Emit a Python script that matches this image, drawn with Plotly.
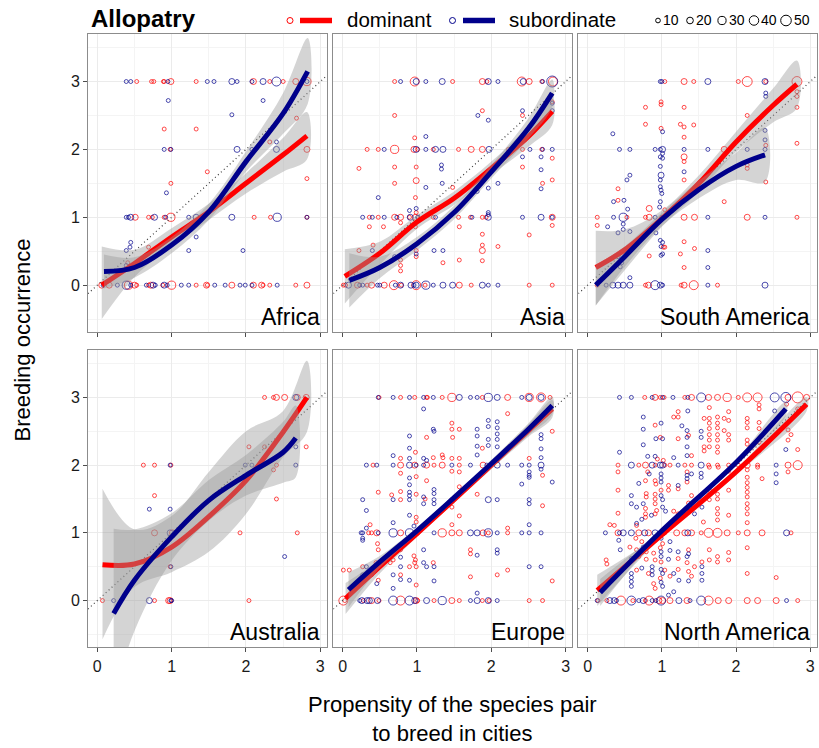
import plotly.graph_objects as go

# ---------------------------------------------------------------------------
# Observations: (propensity, breeding occurrence, weight) per region and status
# ---------------------------------------------------------------------------
AFRICA_DOM = [
    (0.53, 3, 7), (0.73, 3, 7), (0.76, 3, 7), (0.89, 3, 7), (0.90, 3, 7), (0.99, 3, 16), (1.33, 3, 7),
    (2.10, 3, 16), (2.32, 3, 7), (2.50, 3, 7), (2.67, 3, 16), (2.82, 3, 30),
    (0.90, 2.30, 7), (1.33, 2.30, 7), (2.32, 2.11, 7), (2.68, 2.46, 7),
    (0.98, 2, 7), (2.82, 2, 16), (1.48, 1.67, 7), (0.99, 1.50, 7), (2.82, 1.57, 7),
    (0.51, 1, 16), (0.69, 1, 7), (0.74, 1, 7), (0.90, 1, 7), (0.99, 1, 30), (2.11, 1, 7), (2.33, 1, 7), (2.82, 1, 7),
    (0.69, 0.56, 7), (0.41, 0.33, 7),
    (0.06, 0, 16), (0.16, 0, 16), (0.42, 0, 30), (0.50, 0, 16), (0.53, 0, 7), (0.69, 0, 7), (0.72, 0, 16),
    (0.88, 0, 7), (1.00, 0, 30), (1.33, 0, 7), (1.47, 0, 16), (1.48, 0, 7), (1.81, 0, 16), (2.10, 0, 16),
    (2.21, 0, 16), (2.23, 0, 7), (2.32, 0, 7), (2.67, 0, 7), (2.82, 0, 16),
]
AFRICA_SUB = [
    (0.39, 3, 7), (0.45, 3, 7), (0.95, 3, 7), (1.48, 3, 7), (1.57, 3, 7), (1.81, 3, 16), (1.88, 3, 7),
    (2.08, 3, 7), (2.23, 3, 16), (2.41, 3, 36), (2.82, 3, 7),
    (0.955, 2.72, 7), (1.81, 2.51, 7), (2.23, 2.72, 7), (2.41, 2.11, 7),
    (0.90, 2, 7), (0.99, 2, 7), (1.88, 2, 16), (2.08, 2, 7), (2.41, 2, 16), (0.93, 1.36, 7),
    (0.39, 1, 7), (0.42, 1, 7), (0.45, 1, 16), (0.77, 1, 16), (0.92, 1, 7), (1.23, 1, 7), (1.33, 1, 16),
    (1.81, 1, 16), (2.42, 1, 30), (2.82, 1, 7),
    (0.45, 0.63, 7), (0.44, 0.56, 7), (0.39, 0.51, 7), (1.33, 0.71, 7), (1.23, 0.51, 7), (1.96, 0.51, 7), (0.39, 0.29, 7),
    (0.08, 0, 7), (0.27, 0, 7), (0.39, 0, 30), (0.45, 0, 7), (0.66, 0, 7), (0.75, 0, 16), (0.78, 0, 7),
    (0.90, 0, 16), (0.94, 0, 7), (1.13, 0, 7), (1.23, 0, 7), (1.58, 0, 7), (1.72, 0, 7), (1.92, 0, 7),
    (1.99, 0, 7), (2.08, 0, 7), (2.42, 0, 7),
]

ASIA_DOM = [
    (0.70, 3, 7), (0.97, 3, 36), (1.48, 3, 7), (1.88, 3, 16), (1.94, 3, 7), (2.41, 3, 36), (2.51, 3, 16),
    (2.68, 3, 7), (2.83, 3, 36),
    (1.88, 2.57, 7), (0.70, 2.50, 7), (2.42, 2.50, 7), (2.82, 2.70, 7), (0.97, 2.17, 7),
    (0.33, 2, 7), (0.48, 2, 7), (0.70, 2, 30), (0.96, 2, 16), (1.01, 2, 7), (1.22, 2, 7), (1.56, 2, 7),
    (1.73, 2, 16), (1.88, 2, 16), (2.23, 2, 7), (2.42, 2, 7), (2.68, 2, 7),
    (0.22, 1.72, 7), (0.70, 1.74, 7), (0.99, 1.74, 7), (0.70, 1.50, 7), (0.99, 1.54, 16), (1.48, 1.44, 7),
    (2.42, 1.74, 7), (2.82, 1.87, 7), (2.69, 1.50, 7), (2.82, 1.55, 7), (0.98, 1.29, 7), (0.99, 1.07, 7),
    (0.36, 1, 7), (0.48, 1, 7), (0.70, 1, 16), (0.78, 1, 16), (0.90, 1, 7), (0.98, 1, 16), (1.22, 1, 7),
    (1.56, 1, 7), (1.72, 1, 7), (1.93, 1, 7), (1.88, 1, 7), (2.82, 1, 16),
    (0.78, 0.92, 7), (0.36, 0.86, 7), (0.55, 0.86, 7), (0.98, 0.86, 7), (1.57, 0.86, 7), (1.88, 0.75, 7),
    (2.51, 0.74, 7), (2.82, 0.88, 7), (0.41, 0.59, 7), (0.22, 0.51, 7), (0.99, 0.51, 7), (1.88, 0.59, 7),
    (2.09, 0.57, 7), (1.88, 0.51, 16), (0.99, 0.42, 7), (0.78, 0.37, 7), (1.35, 0.33, 7), (1.57, 0.37, 7),
    (1.88, 0.36, 7), (0.78, 0.29, 7), (0.78, 0.21, 7),
    (0.01, 0, 7), (0.04, 0, 7), (0.20, 0, 16), (0.33, 0, 7), (0.39, 0, 16), (0.56, 0, 16), (0.69, 0, 36),
    (0.79, 0, 7), (0.99, 0, 36), (1.11, 0, 7), (1.57, 0, 16), (1.73, 0, 7), (2.51, 0, 7), (2.82, 0, 7),
]
ASIA_SUB = [
    (0.78, 3, 7), (0.99, 3, 16), (1.12, 3, 7), (1.34, 3, 16), (1.96, 3, 16), (2.09, 3, 7), (2.43, 3, 16),
    (2.69, 3, 7), (2.82, 3, 54),
    (1.82, 2.50, 7), (1.96, 2.43, 7), (2.42, 2.57, 7), (2.82, 2.68, 7), (2.82, 2.57, 7), (1.12, 2.19, 7),
    (0.56, 2, 7), (0.99, 2, 16), (1.12, 2, 7), (1.25, 2, 16), (1.35, 2, 16), (1.97, 2, 16), (2.52, 2, 7),
    (2.69, 2, 7), (2.82, 2, 7),
    (1.33, 1.77, 7), (1.33, 1.71, 7), (1.12, 1.44, 7), (1.34, 1.50, 7), (1.81, 1.38, 7), (1.96, 1.43, 7),
    (2.09, 1.50, 7), (2.42, 1.89, 7), (2.67, 1.89, 7), (2.67, 1.70, 7), (2.67, 1.42, 7), (0.48, 1.29, 7),
    (0.99, 1.13, 7), (0.90, 1.10, 7), (1.96, 1.07, 7), (1.96, 1.04, 7),
    (0.27, 1, 7), (0.40, 1, 7), (0.56, 1, 7), (0.73, 1, 7), (0.91, 1, 16), (1.01, 1, 7), (1.25, 1, 7),
    (1.74, 1, 7), (1.96, 1, 16), (2.42, 1, 7), (2.67, 1, 16), (2.82, 1, 7),
    (0.40, 0.51, 7), (0.70, 0.42, 7), (0.99, 0.46, 7), (1.23, 0.51, 7), (1.35, 0.51, 7),
    (0.08, 0, 16), (0.23, 0, 7), (0.27, 0, 7), (0.47, 0, 7), (0.50, 0, 7), (0.71, 0, 7), (0.78, 0, 16),
    (0.92, 0, 16), (0.96, 0, 7), (0.99, 0, 16), (1.12, 0, 30), (1.22, 0, 7), (1.35, 0, 16), (1.48, 0, 16),
    (1.88, 0, 16), (1.96, 0, 7), (2.09, 0, 7),
]

SAMERICA_DOM = [
    (1.04, 3, 7), (1.30, 3, 16), (1.43, 3, 7), (2.03, 3, 7), (2.15, 3, 44), (2.40, 3, 7), (2.82, 3, 44),
    (2.82, 2.85, 7), (2.82, 2.78, 7), (0.99, 2.70, 7), (0.99, 2.66, 7), (0.78, 2.62, 7), (1.30, 2.62, 7),
    (2.82, 2.62, 7), (2.15, 2.50, 7), (0.78, 2.37, 7), (1.25, 2.37, 7), (1.30, 2.33, 7), (1.43, 2.36, 7),
    (0.99, 2.31, 7), (2.40, 2.06, 7), (2.82, 2.09, 7), (1.30, 2.18, 7),
    (1.84, 2, 16),
    (1.30, 1.89, 16), (1.30, 1.82, 7), (2.15, 1.77, 7), (2.15, 1.72, 7), (1.30, 1.55, 7), (2.40, 1.52, 7),
    (0.41, 1.42, 7), (0.41, 1.25, 7), (1.84, 1.23, 7), (0.83, 1.13, 16), (1.04, 1.11, 7),
    (0.13, 1, 7), (0.53, 1, 7), (0.78, 1, 7), (0.83, 1, 16), (1.30, 1, 16), (1.44, 1, 16), (2.15, 1, 16), (2.82, 1, 7),
    (0.13, 0.88, 7), (1.02, 0.56, 7), (1.04, 0.56, 7), (1.30, 0.64, 7), (1.44, 0.54, 7), (0.83, 0.43, 7),
    (1.25, 0.46, 7), (1.30, 0.26, 7),
    (0.13, 0, 7), (0.78, 0, 7), (0.82, 0, 16), (1.26, 0, 7), (1.30, 0, 16), (1.43, 0, 36), (1.75, 0, 7),
]
SAMERICA_SUB = [
    (0.98, 3, 7), (1.00, 3, 7), (1.62, 3, 16), (2.39, 3, 16),
    (2.40, 2.83, 7), (2.40, 2.78, 7), (1.01, 2.26, 7), (0.34, 2.23, 7), (2.39, 2.28, 7), (2.39, 2.14, 7),
    (0.43, 2, 7), (0.57, 2, 7), (0.91, 2, 7), (0.98, 2, 7), (1.01, 2, 16), (1.30, 2, 7), (1.62, 2, 7),
    (2.15, 2, 7), (2.39, 2, 7),
    (1.01, 1.94, 7), (0.98, 1.89, 7), (1.01, 1.87, 7), (0.98, 1.75, 7), (1.30, 1.67, 7), (0.57, 1.62, 7),
    (0.53, 1.55, 7), (0.99, 1.62, 16), (0.98, 1.55, 7), (0.98, 1.45, 7), (0.99, 1.40, 7), (1.00, 1.35, 7),
    (0.35, 1.23, 7), (0.49, 1.25, 7), (0.98, 1.23, 7), (0.54, 1.12, 7), (0.97, 1.15, 7),
    (0.35, 1, 7), (0.48, 1, 30), (0.91, 1, 7), (1.00, 1, 7), (1.62, 1, 7), (2.39, 1, 7),
    (0.27, 0.86, 7), (0.48, 0.90, 7), (0.48, 0.82, 7), (0.41, 0.77, 7), (0.57, 0.79, 7), (0.92, 0.77, 7),
    (0.98, 0.66, 7), (1.01, 0.63, 7), (0.99, 0.57, 7), (1.62, 0.51, 7), (0.99, 0.44, 7), (1.01, 0.46, 7),
    (0.41, 0.42, 7), (0.46, 0.33, 7), (0.44, 0.27, 7), (1.62, 0.26, 7), (0.57, 0.11, 7),
    (0.25, 0, 7), (0.34, 0, 16), (0.41, 0, 16), (0.48, 0, 16), (0.57, 0, 16), (0.91, 0, 36), (0.98, 0, 16),
    (1.01, 0, 7), (1.62, 0, 7), (2.39, 0, 16),
]

AUSTRALIA_DOM = [
    (2.25, 3, 7), (2.37, 3, 7), (2.41, 3, 16), (2.52, 3, 16), (2.69, 3, 16), (2.81, 3, 16),
    (2.04, 2.27, 7), (2.25, 2.27, 7), (2.81, 2.27, 7),
    (0.62, 2, 7), (0.77, 2, 7), (0.99, 2, 7), (2.41, 2, 7), (2.37, 1.93, 7), (0.77, 1.55, 7), (2.41, 1.50, 7),
    (0.77, 1, 16), (1.01, 1, 16), (1.92, 1, 7), (2.69, 1, 7), (0.98, 0.50, 7),
    (0.07, 0, 7), (0.77, 0, 7), (0.96, 0, 16), (0.98, 0, 16), (2.04, 0, 7),
]
AUSTRALIA_SUB = [
    (2.67, 3, 16), (2.67, 2.27, 7),
    (0.98, 2, 7), (1.99, 2, 7), (2.08, 2, 7), (2.67, 2, 7), (0.70, 1.35, 7), (0.98, 1.35, 7),
    (0.98, 1, 16), (2.52, 0.65, 7), (0.99, 0.50, 7),
    (0.22, 0, 7), (0.70, 0, 16), (0.99, 0, 7), (1.00, 0, 7),
]

EUROPE_DOM = [
    (0.49, 3, 7), (0.78, 3, 7), (0.97, 3, 7), (1.13, 3, 7), (1.14, 3, 7), (1.34, 3, 7), (1.47, 3, 30),
    (1.88, 3, 7), (2.22, 3, 16), (2.51, 3, 30), (2.67, 3, 36), (2.79, 3, 7),
    (2.22, 2.76, 7), (1.47, 2.62, 7), (1.57, 2.53, 7), (1.47, 2.53, 7), (1.48, 2.41, 7), (1.13, 2.41, 7),
    (2.82, 2.50, 7), (1.88, 2.25, 7), (0.98, 2.19, 7), (0.78, 2.10, 7), (1.22, 2.11, 7), (1.34, 2.15, 7),
    (1.35, 2.11, 7), (1.47, 2.10, 7), (1.57, 2.10, 7), (2.51, 2.10, 7),
    (0.41, 2, 7), (0.78, 2, 16), (0.97, 2, 16), (1.13, 2, 16), (1.23, 2, 7), (1.34, 2, 16), (1.57, 2, 7), (1.89, 2, 16),
    (0.78, 1.88, 7), (1.47, 1.91, 7), (1.57, 1.90, 7), (2.69, 1.85, 7), (0.99, 1.83, 7), (1.13, 1.77, 7),
    (1.57, 1.68, 7), (0.48, 1.60, 7), (0.66, 1.56, 7), (0.78, 1.61, 7), (0.99, 1.57, 7), (1.11, 1.50, 7),
    (1.47, 1.49, 7), (1.81, 1.57, 7), (0.78, 1.49, 7), (1.47, 1.38, 7), (2.69, 1.40, 7), (1.57, 1.25, 7),
    (0.99, 1.23, 7), (0.99, 1.16, 7), (1.47, 1.12, 7), (2.22, 1.07, 7), (0.37, 1.12, 7),
    (0.35, 1, 7), (0.39, 1, 7), (0.46, 1, 16), (0.78, 1, 16), (0.99, 1, 16), (1.34, 1, 30), (1.47, 1, 16),
    (1.57, 1, 16), (1.89, 1, 16), (1.96, 1, 7), (2.22, 1, 7),
    (0.47, 0.84, 7), (0.48, 0.75, 7), (0.78, 0.75, 7), (0.96, 0.66, 7), (0.98, 0.60, 7), (0.97, 0.56, 7),
    (0.68, 0.60, 7), (1.22, 0.56, 7), (1.72, 0.75, 7), (1.72, 0.69, 7), (0.45, 0.56, 7), (0.48, 0.50, 7),
    (0.64, 0.56, 7), (0.90, 0.50, 7), (0.99, 0.50, 7), (0.27, 0.50, 7), (0.01, 0.45, 7), (0.09, 0.45, 7),
    (0.39, 0.38, 7), (0.78, 0.38, 7), (0.99, 0.23, 7), (0.48, 0.30, 7), (1.72, 0.35, 7), (2.22, 0.45, 7),
    (2.82, 0.29, 7), (2.08, 0.38, 7),
    (0.01, 0, 36), (0.03, 0, 7), (0.28, 0, 7), (0.39, 0, 16), (0.49, 0, 7), (0.78, 0, 36), (0.99, 0, 16),
    (1.01, 0, 7), (1.23, 0, 7), (1.47, 0, 16), (1.57, 0, 7), (1.88, 0, 7), (1.97, 0, 7), (2.51, 0, 7), (2.69, 0, 7),
]
EUROPE_SUB = [
    (0.48, 3, 7), (0.68, 3, 7), (0.90, 3, 7), (1.09, 3, 7), (1.22, 3, 7), (1.57, 3, 16), (1.72, 3, 7),
    (1.81, 3, 7), (1.96, 3, 30), (2.08, 3, 16), (2.41, 3, 7), (2.51, 3, 16), (2.67, 3, 16),
    (1.09, 2.83, 7), (1.96, 2.66, 7), (2.08, 2.64, 7), (1.96, 2.57, 7), (2.08, 2.55, 7), (1.22, 2.53, 7),
    (1.23, 2.50, 7), (1.81, 2.53, 7), (0.90, 2.43, 7), (1.81, 2.43, 7), (2.08, 2.46, 7), (1.96, 2.38, 7),
    (2.08, 2.38, 7), (2.67, 2.45, 7), (2.67, 2.39, 7), (1.81, 2.28, 7), (1.96, 2.29, 7), (2.08, 2.27, 7),
    (0.90, 2.25, 7), (0.68, 2.14, 7), (0.90, 2.10, 7), (1.09, 2.10, 7), (1.13, 2.07, 7), (1.81, 2.15, 7),
    (2.08, 2.07, 7), (2.67, 2.24, 7), (2.67, 2.11, 7),
    (0.32, 2, 7), (0.46, 2, 7), (0.68, 2, 7), (0.90, 2, 16), (0.99, 2, 7), (1.09, 2, 7), (1.47, 2, 7),
    (1.72, 2, 7), (1.94, 2, 7), (2.08, 2, 16), (2.22, 2, 7), (2.41, 2, 7), (2.51, 2, 7), (2.67, 2, 16),
    (2.51, 1.90, 7), (2.51, 1.85, 7), (2.51, 1.82, 7), (2.67, 1.94, 7), (0.90, 1.81, 7), (0.90, 1.71, 7),
    (1.23, 1.64, 7), (1.23, 1.58, 7), (2.41, 1.72, 7), (2.82, 1.75, 7), (0.90, 1.60, 7), (0.90, 1.55, 7),
    (1.09, 1.53, 7), (1.23, 1.49, 7), (0.68, 1.49, 7), (0.90, 1.49, 7), (0.27, 1.49, 7), (1.09, 1.43, 7),
    (1.23, 1.43, 7), (1.96, 1.49, 16), (2.08, 1.49, 7), (2.51, 1.49, 7), (2.51, 1.43, 7), (0.32, 1.33, 7),
    (0.90, 1.26, 7), (0.96, 1.10, 7), (0.68, 1.15, 7), (2.51, 1.12, 7), (0.32, 1.07, 7),
    (0.25, 1, 7), (0.27, 1, 7), (0.48, 1, 7), (0.68, 1, 30), (0.90, 1, 30), (1.01, 1, 7), (1.23, 1, 7),
    (1.72, 1, 16), (1.81, 1, 16), (1.96, 1, 30), (2.08, 1, 7), (2.41, 1, 7), (2.51, 1, 7), (2.67, 1, 7),
    (0.27, 0.92, 7), (0.27, 0.89, 7), (1.09, 0.75, 7), (0.78, 0.64, 7), (1.09, 0.56, 7), (1.13, 0.50, 7),
    (1.23, 0.50, 7), (1.81, 0.67, 7), (2.08, 0.75, 7), (2.08, 0.70, 7), (0.78, 0.50, 7), (0.32, 0.50, 7),
    (0.27, 0.38, 7), (0.68, 0.38, 7), (0.78, 0.31, 7), (0.90, 0.30, 7), (0.46, 0.25, 7), (0.68, 0.18, 7),
    (2.51, 0.50, 7), (2.67, 0.50, 7), (1.23, 0.29, 7), (1.81, 0.11, 7),
    (0.23, 0, 7), (0.26, 0, 16), (0.33, 0, 16), (0.36, 0, 16), (0.47, 0, 16), (0.68, 0, 36), (0.90, 0, 36),
    (0.97, 0, 16), (1.13, 0, 16), (1.34, 0, 30), (1.72, 0, 7), (1.81, 0, 16), (1.96, 0, 16), (2.08, 0, 7),
]

NAMERICA_DOM = [
    (0.77, 3, 7), (0.91, 3, 16), (0.98, 3, 7), (1.03, 3, 7), (1.31, 3, 7), (1.40, 3, 16), (1.63, 3, 16),
    (1.75, 3, 16), (1.88, 3, 30), (2.03, 3, 7), (2.15, 3, 36), (2.29, 3, 36), (2.70, 3, 16), (2.83, 3, 54), (2.95, 3, 16),
    (2.31, 2.89, 7), (2.31, 2.83, 7), (2.68, 2.90, 7), (1.64, 2.85, 7), (2.83, 2.83, 7), (1.22, 2.79, 7),
    (1.90, 2.79, 7), (1.16, 2.71, 7), (1.22, 2.71, 7), (1.57, 2.69, 7), (1.64, 2.69, 7), (1.75, 2.71, 7),
    (1.84, 2.69, 7), (1.90, 2.66, 7), (2.15, 2.69, 7), (2.15, 2.63, 7), (2.31, 2.63, 7), (1.64, 2.62, 7),
    (1.75, 2.62, 7), (0.91, 2.59, 7), (1.36, 2.44, 7), (1.64, 2.54, 7), (1.75, 2.55, 7), (1.84, 2.51, 7),
    (1.64, 2.45, 7), (1.75, 2.45, 7), (1.90, 2.45, 7), (2.15, 2.55, 7), (2.31, 2.54, 7), (2.70, 2.52, 7),
    (2.74, 2.45, 7), (2.70, 2.37, 7), (0.98, 2.41, 7), (1.22, 2.39, 7), (1.64, 2.37, 7), (1.75, 2.37, 7),
    (1.75, 2.27, 7), (1.75, 2.19, 7), (1.90, 2.37, 7), (1.64, 2.27, 7), (1.57, 2.27, 7), (1.57, 2.21, 7),
    (2.15, 2.37, 7), (2.15, 2.31, 7), (2.31, 2.34, 7), (2.31, 2.21, 7), (2.83, 2.23, 7), (0.94, 2.09, 7),
    (1.02, 2.07, 7), (1.40, 2.14, 7),
    (0.41, 2, 7), (0.69, 2, 7), (0.78, 2, 16), (0.91, 2, 7), (1.04, 2, 7), (1.11, 2, 7), (1.31, 2, 7),
    (1.40, 2, 7), (1.63, 2, 7), (1.75, 2, 7), (1.90, 2, 7), (2.03, 2, 7), (2.15, 2, 16), (2.29, 2, 7),
    (2.70, 2, 16), (2.83, 2, 36),
    (0.41, 1.90, 7), (0.41, 1.63, 7), (0.41, 1.29, 7), (0.81, 1.90, 7), (0.78, 1.77, 7), (0.91, 1.77, 7),
    (0.92, 1.72, 7), (1.34, 1.90, 7), (1.34, 1.75, 7), (1.64, 1.97, 7), (1.76, 1.97, 7), (1.90, 1.91, 7),
    (2.15, 1.93, 7), (2.15, 1.82, 7), (2.29, 1.97, 7), (2.35, 1.80, 7), (2.70, 1.90, 7), (1.09, 1.70, 7),
    (1.09, 1.63, 7), (1.22, 1.65, 7), (1.40, 1.55, 7), (1.64, 1.63, 7), (1.64, 1.56, 7), (1.64, 1.49, 7),
    (1.75, 1.50, 7), (1.75, 1.57, 7), (1.90, 1.63, 7), (2.15, 1.74, 7), (2.15, 1.67, 7), (2.15, 1.60, 7),
    (2.15, 1.53, 7), (2.15, 1.43, 7), (2.15, 1.36, 7), (2.15, 1.28, 7), (2.15, 1.15, 7), (0.79, 1.58, 7),
    (0.79, 1.53, 7), (0.91, 1.57, 7), (0.91, 1.50, 7), (0.91, 1.43, 7), (0.99, 1.63, 7), (0.78, 1.36, 7),
    (0.78, 1.28, 7), (0.78, 1.23, 7), (0.91, 1.28, 7), (0.93, 1.33, 7), (1.16, 1.32, 7), (1.22, 1.28, 7),
    (1.75, 1.36, 7), (1.75, 1.28, 7), (1.75, 1.19, 7), (1.90, 1.26, 7), (1.56, 1.16, 7), (0.66, 1.11, 7),
    (0.30, 1.12, 7), (0.36, 1.11, 7), (1.36, 1.44, 7),
    (0.41, 1, 16), (0.69, 1, 16), (0.82, 1, 16), (0.98, 1, 7), (1.04, 1, 7), (1.20, 1, 16), (1.31, 1, 16),
    (1.40, 1, 16), (1.53, 1, 7), (1.63, 1, 36), (1.75, 1, 36), (1.88, 1, 16), (2.03, 1, 7), (2.15, 1, 16),
    (2.35, 1, 16), (2.74, 1, 7),
    (0.65, 0.92, 7), (0.73, 0.87, 7), (1.01, 0.84, 7), (0.98, 0.78, 7), (0.57, 0.79, 7), (0.66, 0.75, 7),
    (0.79, 0.72, 7), (0.89, 0.70, 7), (1.36, 0.75, 7), (1.64, 0.75, 7), (1.90, 0.71, 7), (2.15, 0.78, 7),
    (0.25, 0.60, 7), (0.26, 0.54, 7), (0.69, 0.65, 7), (0.79, 0.61, 7), (0.91, 0.60, 7), (0.99, 0.57, 7),
    (1.22, 0.62, 7), (1.34, 0.56, 7), (1.44, 0.50, 7), (1.54, 0.57, 7), (1.64, 0.60, 7), (1.75, 0.65, 7),
    (1.75, 0.57, 7), (1.90, 0.60, 7), (0.66, 0.45, 7), (0.82, 0.40, 7), (0.98, 0.33, 7), (0.89, 0.25, 7),
    (0.91, 0.18, 7), (1.04, 0.45, 7), (1.11, 0.36, 7), (1.22, 0.46, 7), (1.36, 0.43, 7), (1.40, 0.36, 7),
    (2.15, 0.40, 7), (2.54, 0.34, 7),
    (0.14, 0, 7), (0.26, 0, 7), (0.45, 0, 36), (0.61, 0, 7), (0.78, 0, 7), (0.83, 0, 36), (0.96, 0, 16),
    (1.01, 0, 16), (1.11, 0, 16), (1.34, 0, 16), (1.63, 0, 36), (1.76, 0, 16), (1.90, 0, 16), (2.15, 0, 16),
    (2.29, 0, 16), (2.54, 0, 16), (2.83, 0, 7),
]
NAMERICA_SUB = [
    (0.43, 3, 7), (0.59, 3, 7), (0.87, 3, 7), (1.01, 3, 7), (1.15, 3, 7), (1.35, 3, 7), (1.53, 3, 36),
    (2.52, 3, 36), (2.67, 3, 44),
    (2.52, 2.80, 7), (1.35, 2.80, 7), (0.75, 2.71, 7), (0.99, 2.62, 7), (1.27, 2.58, 7), (1.34, 2.51, 7),
    (0.75, 2.53, 7), (0.92, 2.39, 7), (1.01, 2.39, 7), (1.34, 2.41, 7), (1.53, 2.50, 7), (1.53, 2.41, 7),
    (0.75, 2.30, 7), (0.43, 2.19, 7), (1.34, 2.27, 7), (2.67, 2.23, 7), (0.81, 2.13, 7), (0.91, 2.13, 7),
    (1.16, 2.11, 7), (1.34, 2.14, 7),
    (0.59, 2, 16), (0.87, 2, 16), (0.98, 2, 16), (1.01, 2, 16), (1.22, 2, 7), (1.53, 2, 16), (2.54, 2, 7),
    (0.83, 1.87, 7), (0.99, 1.87, 7), (0.99, 1.81, 7), (0.99, 1.75, 7), (0.69, 1.73, 7), (1.34, 1.85, 7),
    (1.34, 1.80, 7), (1.40, 1.87, 7), (1.53, 1.88, 7), (1.53, 1.82, 7), (2.54, 1.87, 7), (2.54, 1.74, 7),
    (1.22, 1.70, 7), (0.99, 1.55, 7), (1.01, 1.49, 7), (0.59, 1.55, 7), (0.59, 1.43, 7), (0.66, 1.38, 7),
    (0.75, 1.43, 7), (0.86, 1.26, 7), (1.01, 1.38, 7), (1.05, 1.32, 7), (1.34, 1.36, 7), (1.44, 1.28, 7),
    (1.54, 1.38, 7), (0.73, 1.20, 7), (0.66, 1.14, 7),
    (0.24, 1, 7), (0.43, 1, 7), (0.48, 1, 16), (0.59, 1, 16), (0.77, 1, 16), (0.91, 1, 16), (1.01, 1, 16),
    (1.35, 1, 16), (2.68, 1, 16),
    (0.42, 0.89, 7), (0.91, 0.89, 7), (0.99, 0.92, 7), (1.11, 0.87, 7), (0.75, 0.79, 7), (0.44, 0.75, 7),
    (0.99, 0.72, 7), (1.11, 0.74, 7), (1.22, 0.72, 7), (1.36, 0.69, 7), (0.59, 0.62, 7), (0.99, 0.65, 7),
    (1.09, 0.61, 7), (1.34, 0.65, 7), (0.59, 0.40, 7), (0.59, 0.34, 7), (0.59, 0.28, 7), (0.59, 0.21, 7),
    (0.73, 0.48, 7), (0.87, 0.50, 7), (0.87, 0.44, 7), (0.87, 0.38, 7), (0.99, 0.46, 7), (1.01, 0.40, 7),
    (0.99, 0.27, 7), (1.01, 0.21, 7), (1.16, 0.40, 7), (1.23, 0.30, 7), (1.36, 0.29, 7), (1.54, 0.50, 7),
    (1.54, 0.40, 7), (1.54, 0.30, 7), (1.09, 0.08, 7), (1.16, 0.13, 7),
    (0.13, 0, 7), (0.30, 0, 16), (0.36, 0, 16), (0.39, 0, 7), (0.59, 0, 36), (0.69, 0, 7), (0.75, 0, 16),
    (0.87, 0, 7), (0.92, 0, 7), (0.99, 0, 36), (1.23, 0, 16), (1.38, 0, 7), (1.53, 0, 36), (2.68, 0, 7),
]

# ---------------------------------------------------------------------------
# Smoothed fits: (x, fitted, lower, upper) per region and status
# ---------------------------------------------------------------------------
AFRICA_DOM_FIT = ([0.06, 0.5, 1.0, 1.5, 2.0, 2.5, 2.82],
                  [0.00, 0.32, 0.71, 1.08, 1.50, 1.92, 2.20],
                  [-0.50, 0.12, 0.58, 0.96, 1.35, 1.67, 1.85],
                  [0.57, 0.52, 0.84, 1.20, 1.65, 2.17, 2.55])
AFRICA_SUB_FIT = ([0.09, 0.5, 1.0, 1.5, 2.0, 2.5, 2.83],
                  [0.20, 0.26, 0.59, 1.08, 1.82, 2.53, 3.15],
                  [-0.05, 0.11, 0.47, 0.96, 1.67, 2.23, 2.67],
                  [0.45, 0.41, 0.71, 1.20, 1.97, 2.83, 3.64])
ASIA_DOM_FIT = ([0.03, 0.5, 1.0, 1.5, 2.0, 2.5, 2.82],
                [0.13, 0.47, 0.93, 1.28, 1.72, 2.19, 2.56],
                [-0.27, 0.30, 0.83, 1.18, 1.62, 2.04, 2.36],
                [0.53, 0.64, 1.03, 1.38, 1.82, 2.34, 2.76])
ASIA_SUB_FIT = ([0.09, 0.5, 1.0, 1.5, 2.0, 2.5, 2.82],
                [0.07, 0.26, 0.61, 1.07, 1.67, 2.31, 2.83],
                [-0.33, 0.10, 0.51, 0.97, 1.57, 2.16, 2.63],
                [0.47, 0.42, 0.71, 1.17, 1.77, 2.46, 3.03])
SAMERICA_DOM_FIT = ([0.11, 0.5, 1.0, 1.5, 2.0, 2.5, 2.82],
                    [0.26, 0.52, 0.98, 1.50, 2.11, 2.65, 2.96],
                    [-0.30, 0.22, 0.86, 1.38, 1.96, 2.40, 2.61],
                    [0.80, 0.82, 1.10, 1.62, 2.26, 2.90, 3.31])
SAMERICA_SUB_FIT = ([0.11, 0.5, 1.0, 1.5, 2.0, 2.39],
                    [0.00, 0.42, 0.97, 1.41, 1.75, 1.92],
                    [-0.30, 0.27, 0.87, 1.28, 1.55, 1.52],
                    [0.30, 0.57, 1.07, 1.54, 1.95, 2.32])
AUSTRALIA_DOM_FIT = ([0.07, 0.5, 1.0, 1.5, 2.0, 2.5, 2.82],
                     [0.53, 0.54, 0.79, 1.24, 1.77, 2.49, 3.00],
                     [-0.57, 0.20, 0.42, 0.72, 1.28, 2.12, 2.49],
                     [1.65, 1.05, 1.25, 1.90, 2.50, 2.80, 3.54])
AUSTRALIA_SUB_FIT = ([0.22, 0.5, 1.0, 1.5, 2.0, 2.5, 2.67],
                     [-0.19, 0.30, 0.94, 1.48, 1.85, 2.19, 2.40],
                     [-1.44, -0.45, 0.59, 1.18, 1.55, 1.74, 1.82],
                     [1.06, 1.05, 1.29, 1.78, 2.15, 2.64, 2.88])
EUROPE_DOM_FIT = ([0.04, 0.5, 1.0, 1.5, 2.0, 2.5, 2.82],
                  [0.03, 0.50, 0.99, 1.49, 2.00, 2.51, 2.83],
                  [-0.20, 0.40, 0.94, 1.44, 1.94, 2.42, 2.70],
                  [0.26, 0.60, 1.04, 1.54, 2.06, 2.60, 2.96])
EUROPE_SUB_FIT = ([0.08, 0.5, 1.0, 1.5, 2.0, 2.5, 2.82],
                  [0.16, 0.57, 1.03, 1.52, 2.02, 2.53, 2.88],
                  [-0.10, 0.48, 0.98, 1.47, 1.96, 2.44, 2.75],
                  [0.42, 0.66, 1.08, 1.57, 2.08, 2.62, 3.01])
NAMERICA_DOM_FIT = ([0.13, 1.0, 2.0, 2.95],
                    [0.15, 0.97, 1.90, 2.90],
                    [-0.08, 0.94, 1.86, 2.80],
                    [0.38, 1.00, 1.94, 3.00])
NAMERICA_SUB_FIT = ([0.17, 1.0, 2.0, 2.67],
                    [0.12, 1.03, 2.04, 2.83],
                    [-0.08, 1.00, 2.00, 2.73],
                    [0.32, 1.06, 2.08, 2.93])

REGIONS = ["Africa", "Asia", "South America", "Australia", "Europe", "North America"]
POINTS = {
    "Africa": (AFRICA_DOM, AFRICA_SUB), "Asia": (ASIA_DOM, ASIA_SUB),
    "South America": (SAMERICA_DOM, SAMERICA_SUB), "Australia": (AUSTRALIA_DOM, AUSTRALIA_SUB),
    "Europe": (EUROPE_DOM, EUROPE_SUB), "North America": (NAMERICA_DOM, NAMERICA_SUB),
}
FITS = {
    "Africa": (AFRICA_DOM_FIT, AFRICA_SUB_FIT), "Asia": (ASIA_DOM_FIT, ASIA_SUB_FIT),
    "South America": (SAMERICA_DOM_FIT, SAMERICA_SUB_FIT), "Australia": (AUSTRALIA_DOM_FIT, AUSTRALIA_SUB_FIT),
    "Europe": (EUROPE_DOM_FIT, EUROPE_SUB_FIT), "North America": (NAMERICA_DOM_FIT, NAMERICA_SUB_FIT),
}
TICKS = [0, 1, 2, 3]
SIZE_BREAKS = [10, 20, 30, 40, 50]

# ---------------------------------------------------------------------------
# Styling / layout
# ---------------------------------------------------------------------------
W, H = 819, 748
FONT = "Liberation Sans, Arial, sans-serif"
RED = "#ff0000"
NAVY = "#00008b"
BAND = "rgba(153,153,153,0.42)"
XR = [-0.125, 3.09]
YR = [-0.69, 3.70]

COL_PX = [(88.0, 327.0), (333.3, 572.3), (578.3, 817.0)]
ROW_PX = [(34.0, 332.0), (350.0, 647.3)]


def px(x):
    return x / W


def py(y):
    return 1 - y / H


def diam(w):
    # area-proportional symbol size
    return 1.5 * w ** 0.5


fig = go.Figure()

for i, region in enumerate(REGIONS):
    r, c = divmod(i, 3)
    suffix = "" if i == 0 else str(i + 1)
    xa, ya = f"x{suffix}", f"y{suffix}"
    dom_pts, sub_pts = POINTS[region]
    for pts, col in ((dom_pts, RED), (sub_pts, NAVY)):
        fig.add_trace(go.Scatter(
            x=[p[0] for p in pts], y=[p[1] for p in pts], mode="markers",
            marker=dict(symbol="circle-open", size=[diam(p[2]) for p in pts], color=col,
                        line=dict(width=1, color=col)),
            xaxis=xa, yaxis=ya, hoverinfo="skip"))
    # 1:1 reference line
    fig.add_trace(go.Scatter(x=XR, y=XR, mode="lines",
                             line=dict(color="#3a3a3a", width=1.2, dash="1px,3px"),
                             xaxis=xa, yaxis=ya, hoverinfo="skip"))
    for fit, col in zip(FITS[region], (RED, NAVY)):
        fx, fy, lo, hi = fit
        fig.add_trace(go.Scatter(
            x=list(fx) + list(fx)[::-1], y=list(hi) + list(lo)[::-1], mode="lines",
            fill="toself", fillcolor=BAND, line=dict(width=0, shape="spline"),
            xaxis=xa, yaxis=ya, hoverinfo="skip"))
        fig.add_trace(go.Scatter(x=fx, y=fy, mode="lines", line=dict(color=col, width=5, shape="spline"),
                                 xaxis=xa, yaxis=ya, hoverinfo="skip"))

    x0, x1 = COL_PX[c]
    y0, y1 = ROW_PX[r]
    axis_common = dict(showline=True, mirror=True, linecolor="#8c8c8c", linewidth=1,
                       zeroline=False, showgrid=True, gridcolor="#ebebeb", gridwidth=1,
                       ticks="outside", ticklen=4, tickwidth=1, tickcolor="#4d4d4d",
                       tickfont=dict(family=FONT, size=16, color="#1a1a1a"),
                       tickvals=TICKS, fixedrange=True)
    fig.update_layout({
        f"xaxis{suffix}": dict(axis_common, domain=[px(x0), px(x1)], range=XR, anchor=ya,
                               showticklabels=(r == 1),
                               minor=dict(tickvals=[0.5, 1.5, 2.5], showgrid=True,
                                          gridcolor="#f4f4f4", ticks="")),
        f"yaxis{suffix}": dict(axis_common, domain=[py(y1), py(y0)], range=YR, anchor=xa,
                               showticklabels=(c == 0), ticks=("outside" if c == 0 else ""),
                               minor=dict(tickvals=[-0.5, 0.5, 1.5, 2.5, 3.5], showgrid=True,
                                          gridcolor="#f4f4f4", ticks="")),
    })
    fig.add_annotation(text=region, xref=f"{xa} domain", yref=f"{ya} domain", x=1, y=0,
                       xanchor="right", yanchor="bottom", xshift=-5, yshift=0, showarrow=False,
                       font=dict(family=FONT, size=23, color="#000000"))

# axis titles
fig.add_annotation(text="Breeding occurrence", xref="paper", yref="paper", x=px(22), y=py(340.5),
                   xanchor="center", yanchor="middle",
                   textangle=-90, showarrow=False, font=dict(family=FONT, size=22, color="#000000"))
fig.add_annotation(text="Propensity of the species pair<br>to breed in cities", xref="paper", yref="paper",
                   x=px(452.5), y=py(718.5), xanchor="center", yanchor="middle",
                   showarrow=False, align="center",
                   font=dict(family=FONT, size=22, color="#000000"))

# header: title and legends
fig.add_annotation(text="<b>Allopatry</b>", xref="paper", yref="paper", x=px(89), y=py(19),
                   xanchor="left", yanchor="middle", showarrow=False,
                   font=dict(family=FONT, size=24, color="#000000"))

shapes = []


def circle(cx, cy, d, col):
    r = d / 2
    return dict(type="circle", xref="paper", yref="paper", xsizemode="pixel", ysizemode="pixel",
                xanchor=px(cx), yanchor=py(cy), x0=-r, x1=r, y0=-r, y1=r,
                line=dict(color=col, width=1), fillcolor="rgba(0,0,0,0)")


for (cx, lx0, lx1, tx, label, col) in ((290, 300, 332, 345, "dominant", RED),
                                       (452.5, 463, 495, 507, "subordinate", NAVY)):
    shapes.append(circle(cx, 20.5, diam(16), col))
    shapes.append(dict(type="line", xref="paper", yref="paper", x0=px(lx0), x1=px(lx1),
                       y0=py(20.5), y1=py(20.5), line=dict(color=col, width=5.5)))
    fig.add_annotation(text=label, xref="paper", yref="paper", x=px(tx), y=py(20),
                       xanchor="left", yanchor="middle", showarrow=False,
                       font=dict(family=FONT, size=20.5, color="#000000"))

for cx, b in zip([658, 690, 722, 754, 786], SIZE_BREAKS):
    d = diam(b)
    shapes.append(circle(cx, 20.5, d, "#000000"))
    fig.add_annotation(text=str(b), xref="paper", yref="paper", x=px(cx + d / 2 + 0.5), y=py(20.5),
                       xanchor="left", yanchor="middle", showarrow=False,
                       font=dict(family=FONT, size=14, color="#000000"))

fig.update_layout(
    width=W, height=H, margin=dict(l=0, r=0, t=0, b=0),
    paper_bgcolor="white", plot_bgcolor="white", showlegend=False,
    shapes=shapes, font=dict(family=FONT),
)

fig.write_html("out.html")
